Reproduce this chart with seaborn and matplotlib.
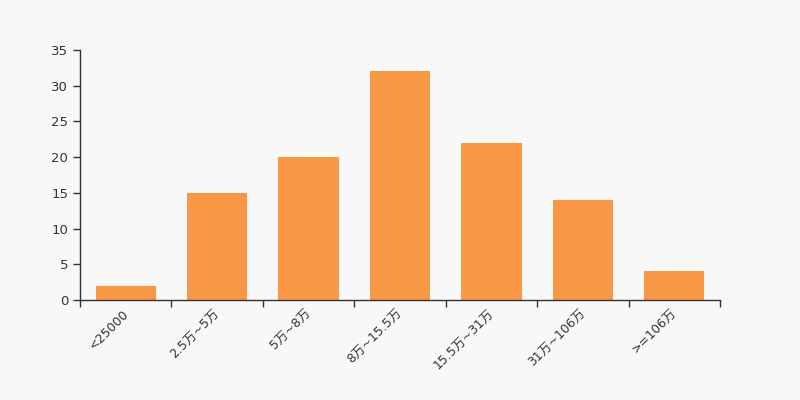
import matplotlib
matplotlib.use("Agg")
import matplotlib.pyplot as plt
import matplotlib.transforms as mtransforms
import seaborn as sns
import pandas as pd
import numpy as np

# data
categories = ["<25000", "2.5万~5万", "5万~8万", "8万~15.5万", "15.5万~31万", "31万~106万", ">=106万"]
counts = [2, 15, 20, 32, 22, 14, 4]

sns.set_style("white")
plt.rcParams['font.family'] = ['DejaVu Sans', 'Noto Sans CJK SC']

df = pd.DataFrame({"category": categories, "count": counts})

fig = plt.figure(figsize=(8, 4), dpi=100, facecolor="#f8f8f8")
ax = fig.add_axes([0.1, 0.25, 0.8, 0.625])
ax.set_facecolor("#f8f8f8")

sns.barplot(data=df, x="category", y="count", color="#f89746", saturation=1,
            width=0.66, linewidth=0, ax=ax)

ax.set_xlim(-0.5, len(categories) - 0.5)
ax.set_ylim(0, 35)
ax.set_yticks(range(0, 36, 5))
ax.set_xlabel("")
ax.set_ylabel("")

# labels at bar centres, tick marks at category boundaries
ax.set_xticks(range(len(categories)))
ax.set_xticklabels(categories, rotation=45, ha="right", rotation_mode="anchor")
ax.set_xticks(np.arange(-0.5, len(categories), 1), minor=True)
ax.tick_params(axis="x", which="major", length=0, pad=5, labelsize=9, labelcolor="#333333")
ax.tick_params(axis="x", which="minor", length=5, width=1, color="#333333", bottom=True)
ax.tick_params(axis="y", length=5, width=1, color="#333333", left=True, labelsize=9.5, labelcolor="#333333")

# nudge the rotated labels a little to the left
shift = mtransforms.ScaledTranslation(-4 / 100, 0, fig.dpi_scale_trans)
for lbl in ax.get_xticklabels():
    lbl.set_transform(lbl.get_transform() + shift)

for s in ["top", "right"]:
    ax.spines[s].set_visible(False)
for s in ["left", "bottom"]:
    ax.spines[s].set_color("#333333")
    ax.spines[s].set_linewidth(1)

fig.savefig("out.png", dpi=100, facecolor="#f8f8f8")
